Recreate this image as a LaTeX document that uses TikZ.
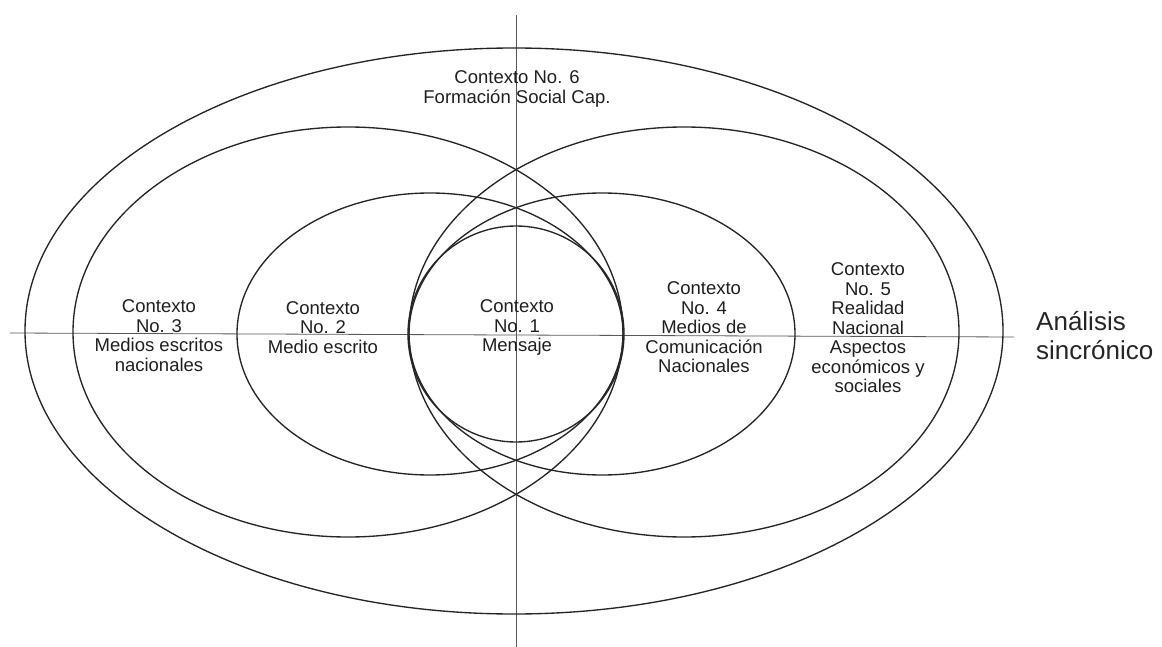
\documentclass[tikz,border=0pt]{standalone}
\usepackage{fontspec}
\setmainfont{Liberation Sans}
\begin{document}
\begin{tikzpicture}[x=1pt,y=-1pt,
  ring/.style={draw=black!85, line width=1.35pt},
  axis/.style={draw=black!65, line width=0.8pt},
  lbl/.style={align=center, inner sep=0pt, text=black!88,
    font=\fontsize{18.5pt}{19.5pt}\selectfont},
  axlbl/.style={align=left, inner sep=0pt, text=black!85, anchor=west,
    font=\fontsize{26pt}{29pt}\selectfont}]
\useasboundingbox (0,0) rectangle (1162,647);
% axes
\coordinate (vtop) at (516,15);
\coordinate (vbot) at (516,647);
\coordinate (hleft) at (10,333);
\coordinate (hright) at (1014,337);
\draw[axis] (vtop) -- (vbot);
\draw[axis] (hleft) -- (hright);
% contexts
\draw[ring] (514,331) ellipse (489 and 283);   % 6
\draw[ring] (348,332) ellipse (275 and 205);   % 3
\draw[ring] (684,332) ellipse (275 and 205);   % 5
\draw[ring] (430,334) ellipse (193 and 141);   % 2
\draw[ring] (602,334) ellipse (193 and 141);   % 4
\draw[ring] (516,334) circle (108);            % 1
% labels
\node[lbl] (c6) at (517,89) {Contexto No. 6\\Formación Social Cap.};
\node[lbl] (c3) at (159,335.5) {Contexto\\No. 3\\Medios escritos\\nacionales};
\node[lbl] (c2) at (323,327.5) {Contexto\\No. 2\\Medio escrito};
\node[lbl] (c1) at (517,327.5) {Contexto\\No. 1\\Mensaje};
\node[lbl] (c4) at (704,327.5) {Contexto\\No. 4\\Medios de\\Comunicación\\Nacionales};
\node[lbl] (c5) at (868,328) {Contexto\\No. 5\\Realidad\\Nacional\\Aspectos\\económicos y\\sociales};
\node[axlbl] (as) at (1036,336) {Análisis\\sincrónico};
\end{tikzpicture}
\end{document}
